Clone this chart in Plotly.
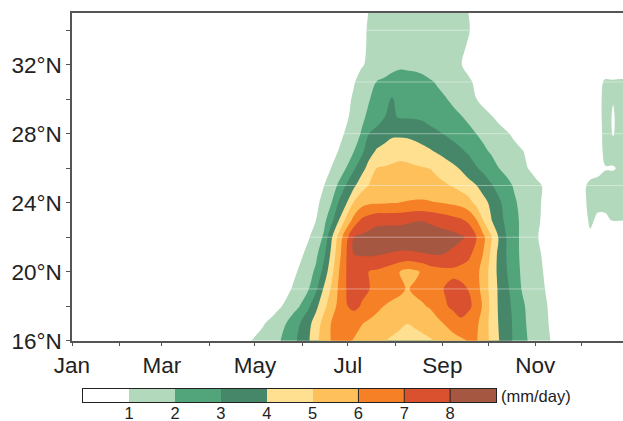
import plotly.graph_objects as go

# Day of year (Jan 1 = 0) for each column of the rainfall grid
days = [105, 110, 115, 120, 125, 130, 135, 140, 145, 150, 155, 160, 165, 170,
        175, 180, 185, 190, 195, 200, 205, 210, 215, 220, 225, 230, 235, 240,
        245, 250, 255, 260, 265, 270, 275, 280, 285, 290, 295, 300, 305, 310,
        315, 320, 325, 330, 335, 340, 345, 350, 355, 360, 365]

# Latitude (degrees N) for each row of the rainfall grid
lats = [16, 17, 18, 19, 20, 21, 22, 23, 24, 25, 26, 27, 28, 29, 30, 31, 32, 33, 34, 35]

# Climatological daily rainfall (mm/day), one list per latitude
lat16 = [0, 0.3, 0.82, 1.15, 1.39, 1.63, 1.87, 2.23, 2.73, 3.28, 3.86, 4.73, 5.46, 6.03,
         6.24, 6.16, 5.94, 5.71, 5.48, 5.25, 5.02, 4.89, 4.77, 4.64, 4.68, 4.8, 4.92, 5.09,
         5.33, 5.56, 5.8, 6.04, 6.1, 5.55, 4.79, 4.03, 3.44, 2.87, 2.36, 1.9, 1.57, 1.24,
         0.93, 0.68, 0.38, 0, 0, 0, 0, 0, 0, 0, 0]
lat17 = [0, 0, 0.12, 0.5, 0.88, 1.24, 1.6, 1.97, 2.5, 3.05, 3.68, 4.48, 5.32, 6.02,
         6.24, 6.48, 6.28, 6.04, 5.83, 5.62, 5.42, 5.28, 5.14, 5.01, 5.13, 5.26, 5.4, 5.76,
         6.09, 6.5, 6.8, 6.63, 6.22, 5.56, 4.69, 3.95, 3.41, 2.85, 2.26, 1.82, 1.49, 1.16,
         0.86, 0.59, 0.31, 0, 0, 0, 0, 0, 0, 0, 0]
lat18 = [0, 0, 0, 0, 0, 0.41, 0.79, 1.19, 1.61, 2.06, 2.82, 3.73, 4.69, 5.51,
         6.25, 6.94, 7.26, 6.92, 6.54, 6.24, 5.97, 5.84, 5.7, 5.64, 5.77, 5.9, 6.11, 6.51,
         6.91, 7.18, 7.38, 7.17, 6.76, 5.79, 4.74, 3.88, 3.34, 2.77, 2.18, 1.77, 1.44, 1.11,
         0.83, 0.58, 0.31, 0, 0, 0, 0, 0, 0, 0, 0]
lat19 = [0, 0, 0, 0, 0, 0, 0.17, 0.65, 1.11, 1.52, 1.93, 2.79, 4.07, 5.09,
         6.14, 7.01, 7.32, 7.24, 7.02, 6.73, 6.42, 6.31, 6.2, 5.93, 6.16, 6.34, 6.5, 6.74,
         7.08, 7.33, 7.23, 6.98, 6.39, 5.64, 4.66, 3.86, 3.23, 2.58, 1.98, 1.66, 1.34, 1.02,
         0.69, 0.41, 0.11, 0, 0, 0, 0, 0, 0, 0, 0]
lat20 = [0, 0, 0, 0, 0, 0, 0, 0.32, 0.76, 1.21, 1.64, 2.17, 3.3, 4.63,
         5.95, 7.01, 7.26, 7.15, 6.98, 6.85, 6.65, 6.4, 5.97, 5.67, 5.81, 6.13, 6.5, 6.62,
         6.73, 6.77, 6.69, 6.62, 6.28, 5.64, 4.61, 3.75, 3.06, 2.42, 1.89, 1.58, 1.26, 0.94,
         0.64, 0.33, 0.03, 0, 0, 0, 0, 0, 0, 0, 0]
lat21 = [0, 0, 0, 0, 0, 0, 0, 0, 0.43, 0.84, 1.3, 1.79, 2.69, 4.2,
         5.64, 6.97, 8.01, 8.09, 8.14, 8.06, 7.98, 7.89, 7.83, 7.81, 7.85, 7.93, 7.99, 8.05,
         7.96, 7.78, 7.49, 7.19, 6.71, 5.93, 4.82, 3.73, 2.98, 2.33, 1.84, 1.51, 1.18, 0.86,
         0.56, 0.25, 0, 0, 0, 0, 0, 0, 0, 0, 0]
lat22 = [0, 0, 0, 0, 0, 0, 0, 0, 0.05, 0.48, 0.9, 1.45, 2.1, 3.78,
         5.34, 6.72, 8.02, 8.19, 8.36, 8.53, 8.61, 8.63, 8.65, 8.67, 8.69, 8.68, 8.6, 8.52,
         8.44, 8.33, 8.15, 7.88, 7.11, 6.19, 5.13, 3.91, 2.98, 2.33, 1.82, 1.44, 1.06, 0.74,
         0.44, 0.13, 0, 0, 0, 0.85, 0, 0, 0, 0, 0]
lat23 = [0, 0, 0, 0, 0, 0, 0, 0, 0, 0.14, 0.57, 0.99, 1.68, 2.63,
         3.95, 5.29, 6.32, 7.15, 7.46, 7.7, 7.7, 7.7, 7.7, 7.81, 7.92, 7.95, 7.8, 7.64,
         7.48, 7.3, 7.12, 6.8, 6.1, 4.94, 4.05, 3.37, 2.78, 2.27, 1.84, 1.49, 1.15, 0.82,
         0.52, 0.21, 0, 0, 0.6, 1.15, 0.85, 0.9, 1.05, 1.05, 1.0]
lat24 = [0, 0, 0, 0, 0, 0, 0, 0, 0, 0, 0.34, 0.77, 1.29, 1.93,
         3.08, 3.92, 5.1, 5.62, 5.87, 5.9, 5.93, 5.96, 6.01, 6.07, 6.12, 6.13, 6.07, 6.01,
         5.94, 5.82, 5.69, 5.38, 4.76, 4.3, 3.79, 3.18, 2.65, 2.13, 1.78, 1.47, 1.17, 0.86,
         0.56, 0.25, 0, 0, 0.7, 1.3, 1.2, 1.15, 1.1, 1.2, 1.2]
lat25 = [0, 0, 0, 0, 0, 0, 0, 0, 0, 0, 0.12, 0.53, 0.95, 1.51,
         2.15, 3.08, 3.8, 4.62, 5.06, 5.17, 5.28, 5.39, 5.5, 5.48, 5.45, 5.43, 5.4, 5.25,
         5.11, 4.92, 4.63, 4.34, 4.04, 3.58, 3.09, 2.67, 2.27, 1.92, 1.67, 1.42, 1.17, 0.9,
         0.6, 0.29, 0, 0, 0.7, 1.3, 1.4, 1.35, 1.3, 1.3, 1.2]
lat26 = [0, 0, 0, 0, 0, 0, 0, 0, 0, 0, 0, 0.16, 0.58, 1.01,
         1.51, 2.03, 2.88, 3.6, 4.4, 5.02, 5.08, 5.14, 5.2, 5.15, 5.1, 5.05, 4.98, 4.75,
         4.48, 4.21, 3.92, 3.52, 3.11, 2.74, 2.38, 2.01, 1.75, 1.48, 1.22, 0.95, 0.65, 0.34,
         0, 0, 0, 0, 0, 0.4, 0.6, 0.95, 0.95, 1.1, 1.1]
lat27 = [0, 0, 0, 0, 0, 0, 0, 0, 0, 0, 0, 0, 0.19, 0.62,
         1.04, 1.52, 1.99, 2.76, 3.58, 4.12, 4.36, 4.6, 4.7, 4.7, 4.55, 4.32, 4.09, 3.85,
         3.61, 3.38, 3.14, 2.85, 2.5, 2.16, 1.89, 1.68, 1.48, 1.27, 1.06, 0.79, 0.49, 0.18,
         0, 0, 0, 0, 0, 0, 0.5, 1.3, 1.3, 1.3, 1.3]
lat28 = [0, 0, 0, 0, 0, 0, 0, 0, 0, 0, 0, 0, 0, 0.28,
         0.71, 1.14, 1.58, 2.08, 3.02, 3.27, 3.54, 3.8, 3.8, 3.75, 3.59, 3.43, 3.27, 3.11,
         2.93, 2.7, 2.47, 2.24, 2.01, 1.78, 1.56, 1.33, 1.11, 0.84, 0.54, 0.23, 0, 0,
         0, 0, 0, 0, 0, 0, 0.55, 1.35, 0.95, 1.35, 1.35]
lat29 = [0, 0, 0, 0, 0, 0, 0, 0, 0, 0, 0, 0, 0, 0,
         0.43, 0.85, 1.31, 1.79, 2.22, 2.63, 2.98, 3.14, 2.91, 2.9, 2.9, 2.85, 2.69, 2.53,
         2.37, 2.21, 2.05, 1.83, 1.57, 1.32, 1.06, 0.77, 0.47, 0.16, 0, 0, 0, 0,
         0, 0, 0, 0, 0, 0, 0.6, 1.4, 0.9, 1.4, 1.4]
lat30 = [0, 0, 0, 0, 0, 0, 0, 0, 0, 0, 0, 0, 0, 0,
         0.32, 0.74, 1.15, 1.56, 1.96, 2.31, 2.7, 3.1, 2.59, 2.55, 2.5, 2.39, 2.28, 2.16,
         2.05, 1.85, 1.57, 1.29, 1.02, 0.7, 0.4, 0.09, 0, 0, 0, 0, 0, 0,
         0, 0, 0, 0, 0, 0, 0.6, 1.4, 1.05, 1.4, 1.4]
lat31 = [0, 0, 0, 0, 0, 0, 0, 0, 0, 0, 0, 0, 0, 0,
         0.09, 0.52, 0.94, 1.33, 1.71, 2.03, 2.15, 2.27, 2.4, 2.35, 2.3, 2.19, 2.07, 1.93,
         1.73, 1.53, 1.33, 1.13, 0.88, 0.58, 0.28, 0, 0, 0, 0, 0, 0, 0,
         0, 0, 0, 0, 0, 0, 0.55, 1.2, 1.15, 1.2, 1.2]
lat32 = [0, 0, 0, 0, 0, 0, 0, 0, 0, 0, 0, 0, 0, 0,
         0, 0.07, 0.49, 0.92, 1.16, 1.37, 1.57, 1.77, 1.84, 1.83, 1.81, 1.76, 1.62, 1.48,
         1.33, 1.19, 1.04, 0.79, 0.48, 0.18, 0, 0, 0, 0, 0, 0, 0, 0,
         0, 0, 0, 0, 0, 0, 0, 0, 0, 0, 0]
lat33 = [0, 0, 0, 0, 0, 0, 0, 0, 0, 0, 0, 0, 0, 0,
         0, 0.02, 0.44, 0.87, 1.09, 1.21, 1.34, 1.47, 1.6, 1.58, 1.55, 1.53, 1.5, 1.4,
         1.29, 1.19, 1.09, 0.95, 0.64, 0.34, 0.04, 0, 0, 0, 0, 0, 0, 0,
         0, 0, 0, 0, 0, 0, 0, 0, 0, 0, 0]
lat34 = [0, 0, 0, 0, 0, 0, 0, 0, 0, 0, 0, 0, 0, 0,
         0, 0.02, 0.44, 0.87, 1.07, 1.18, 1.28, 1.39, 1.5, 1.49, 1.47, 1.46, 1.45, 1.37,
         1.29, 1.2, 1.12, 1.04, 0.84, 0.54, 0.24, 0, 0, 0, 0, 0, 0, 0,
         0, 0, 0, 0, 0, 0, 0, 0, 0, 0, 0]
lat35 = [0, 0, 0, 0, 0, 0, 0, 0, 0, 0, 0, 0, 0, 0,
         0, 0, 0.33, 0.76, 1.04, 1.14, 1.24, 1.34, 1.45, 1.44, 1.43, 1.41, 1.4, 1.32,
         1.24, 1.16, 1.08, 1.01, 0.68, 0.38, 0.08, 0, 0, 0, 0, 0, 0, 0,
         0, 0, 0, 0, 0, 0, 0, 0, 0, 0, 0]

rain = [lat16, lat17, lat18, lat19, lat20, lat21, lat22, lat23, lat24, lat25,
        lat26, lat27, lat28, lat29, lat30, lat31, lat32, lat33, lat34, lat35]

# Contour levels (mm/day) and the fill colour of each band, lowest first
levels = [1, 2, 3, 4, 5, 6, 7, 8]
band_colors = ["#ffffff", "#b3d9bc", "#52a47b", "#468769", "#fee090",
               "#fec05b", "#f58025", "#d9512f", "#a65742"]

month_starts = [0, 31, 59, 90, 120, 151, 181, 212, 243, 273, 304, 334]
month_labels = ["Jan", "", "Mar", "", "May", "", "Jul", "", "Sep", "", "Nov", ""]
lat_ticks = [16, 18, 20, 22, 24, 26, 28, 30, 32, 34]
lat_labels = ["16°N", "", "20°N", "", "24°N", "", "28°N", "", "32°N", ""]
grid_lats = [19, 22, 25, 28, 31, 34]

for row in rain:
    assert len(row) == len(days)

FONT = "Liberation Sans, Arial, Helvetica, sans-serif"
INK = "#222222"
AXIS = "#555555"

# Stepped colour scale: band k covers [k/n, (k+1)/n]
n_bands = len(band_colors)
scale = []
for k, c in enumerate(band_colors):
    scale.append([k / n_bands, c])
    scale.append([(k + 1) / n_bands, c])

fig = go.Figure()

fig.add_trace(go.Contour(
    x=days, y=lats, z=rain,
    autocontour=False,
    contours=dict(start=levels[0], end=levels[-1] + 1, size=1,
                  coloring="fill", showlines=False),
    line=dict(width=0),
    colorscale=scale,
    showscale=False,
    hoverinfo="skip",
))

# Colour key drawn as a one-row heatmap on its own axis pair
centers = [k + 0.5 for k in range(n_bands)]
fig.add_trace(go.Heatmap(
    x=centers, y=[0], z=[centers],
    zmin=0, zmax=n_bands,
    colorscale=scale, showscale=False,
    xaxis="x2", yaxis="y2", hoverinfo="skip",
))

shapes = []
for g in grid_lats:
    shapes.append(dict(type="line", xref="paper", x0=0, x1=1, yref="y", y0=g, y1=g,
                       line=dict(color="rgba(255,255,255,0.4)", width=1), layer="above"))
for v in levels[5:]:
    shapes.append(dict(type="line", xref="x2", x0=v, x1=v, yref="y2 domain", y0=0, y1=1,
                       line=dict(color=INK, width=1), layer="above"))

W, H = 623, 421
ML, MR, MT, MB = 72, 0, 13, 19
plot_h = H - MT - MB
plot_w = W - ML - MR
main_bottom = 340.7
key_left, key_right, key_top = 83.3, 496.0, 389.0

fig.update_layout(
    width=W, height=H,
    margin=dict(l=ML, r=MR, t=MT, b=MB, autoexpand=False),
    paper_bgcolor="white", plot_bgcolor="white",
    font=dict(family=FONT, color=INK),
    showlegend=False,
    shapes=shapes,
    xaxis=dict(
        domain=[0, 1], range=[0, 361.5], anchor="y",
        tickmode="array", tickvals=month_starts, ticktext=month_labels,
        ticks="outside", ticklen=4, tickwidth=1.2, tickcolor=AXIS,
        showline=True, linecolor=AXIS, linewidth=1.5, mirror=True,
        showgrid=False, zeroline=False,
        tickfont=dict(size=22.5, color=INK, family=FONT),
    ),
    yaxis=dict(
        domain=[(H - MB - main_bottom) / plot_h, 1], range=[16, 35], anchor="x",
        tickmode="array", tickvals=lat_ticks, ticktext=lat_labels,
        ticks="outside", ticklen=4, tickwidth=1.2, tickcolor=AXIS,
        showline=True, linecolor=AXIS, linewidth=1.5,
        showgrid=False, zeroline=False,
        tickfont=dict(size=22.5, color=INK, family=FONT),
    ),
    xaxis2=dict(
        domain=[(key_left - ML) / plot_w, (key_right - ML) / plot_w],
        range=[0, n_bands], anchor="y2",
        tickmode="array", tickvals=levels, ticktext=[str(v) for v in levels],
        ticks="", ticklabelstandoff=-4,
        showline=True, linecolor=INK, linewidth=1, mirror=True,
        showgrid=False, zeroline=False,
        tickfont=dict(size=16.5, color=INK, family=FONT),
    ),
    yaxis2=dict(
        domain=[0, (H - MB - key_top) / plot_h], range=[-0.5, 0.5], anchor="x2",
        showticklabels=False, ticks="", showline=True, linecolor=INK, linewidth=1,
        mirror=True, showgrid=False, zeroline=False,
    ),
    annotations=[dict(
        text="(mm/day)", xref="x2", x=n_bands, xanchor="left", xshift=3,
        yref="y2", y=0, yanchor="middle", showarrow=False,
        font=dict(size=16.5, color=INK, family=FONT),
    )],
)

fig.write_html("out.html")
